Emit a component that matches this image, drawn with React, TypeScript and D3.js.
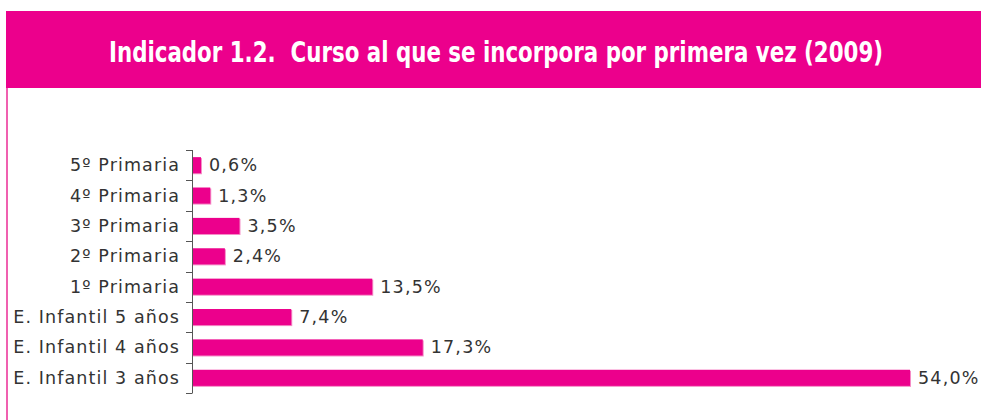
import React, { useEffect, useRef } from 'react';
import * as d3 from 'd3';

const categories = [
  '5º Primaria',
  '4º Primaria',
  '3º Primaria',
  '2º Primaria',
  '1º Primaria',
  'E. Infantil 5 años',
  'E. Infantil 4 años',
  'E. Infantil 3 años',
];
const values = [0.6, 1.3, 3.5, 2.4, 13.5, 7.4, 17.3, 54.0];

const PINK = '#ec008c';

const App = () => {
  const ref = useRef<SVGSVGElement>(null);

  useEffect(() => {
    const svg = d3.select(ref.current);
    svg.selectAll('*').remove();

    // header band
    svg.append('rect').attr('x', 6).attr('y', 11).attr('width', 975).attr('height', 77).style('fill', PINK);
    svg
      .append('text')
      .attr('x', 496)
      .attr('y', 62)
      .attr('text-anchor', 'middle')
      .attr('textLength', 774)
      .attr('lengthAdjust', 'spacingAndGlyphs')
      .style('font-family', '"DejaVu Sans Condensed", "DejaVu Sans"')
      .style('font-weight', 'bold')
      .style('font-size', '28px')
      .style('fill', 'white')
      .attr('xml:space', 'preserve')
      .text('Indicador 1.2.  Curso al que se incorpora por primera vez (2009)');

    // left border
    svg.append('rect').attr('x', 6).attr('y', 88).attr('width', 2).attr('height', 332).style('fill', '#f060b0');

    const x = d3.scaleLinear().domain([0, 54]).range([193, 910]);
    const y = d3.scaleBand<string>().domain(categories).range([150, 393]).paddingInner(0.47).paddingOuter(0.235);

    const g = svg.append('g');
    const data = categories.map((c, i) => ({ c, v: values[i] }));

    // bars with light edge
    g.selectAll('rect.edge')
      .data(data)
      .join('rect')
      .attr('class', 'edge')
      .attr('x', x(0))
      .attr('y', (d) => y(d.c)! + 1)
      .attr('width', (d) => x(d.v) - x(0) + 1)
      .attr('height', y.bandwidth())
      .style('fill', '#f58cc6');
    g.selectAll('rect.bar')
      .data(data)
      .join('rect')
      .attr('class', 'bar')
      .attr('x', x(0))
      .attr('y', (d) => y(d.c)!)
      .attr('width', (d) => x(d.v) - x(0))
      .attr('height', y.bandwidth())
      .style('fill', PINK);

    // value labels
    g.selectAll('text.val')
      .data(data)
      .join('text')
      .attr('class', 'val')
      .attr('x', (d) => x(d.v) + 8)
      .attr('y', (d) => y(d.c)! + y.bandwidth() / 2 + 6)
      .style('font-family', '"DejaVu Sans"')
      .style('font-size', '17.5px')
      .style('letter-spacing', '1.2px')
      .style('fill', '#333')
      .text((d) => d.v.toFixed(1).replace('.', ',') + '%');

    // axis
    const step = y.step();
    const ticks = d3.range(categories.length + 1).map((i) => 150 + i * step);
    g.append('line').attr('x1', 192.5).attr('x2', 192.5).attr('y1', 150).attr('y2', 393).attr('stroke', '#555').attr('stroke-width', 1);
    g.selectAll('line.tick')
      .data(ticks)
      .join('line')
      .attr('class', 'tick')
      .attr('x1', 186)
      .attr('x2', 192.5)
      .attr('y1', (d) => Math.round(d) + 0.5)
      .attr('y2', (d) => Math.round(d) + 0.5)
      .attr('stroke', '#555')
      .attr('stroke-width', 1);

    g.selectAll('text.cat')
      .data(data)
      .join('text')
      .attr('class', 'cat')
      .attr('x', 180)
      .attr('y', (d) => y(d.c)! + y.bandwidth() / 2 + 6)
      .attr('text-anchor', 'end')
      .style('font-family', '"DejaVu Sans"')
      .style('font-size', '17.5px')
      .style('letter-spacing', '1.1px')
      .style('fill', '#333')
      .text((d) => d.c);
  }, []);

  return (
    <svg ref={ref} width={981} height={420} style={{ position: 'absolute', left: 0, top: 0, background: 'white' }} />
  );
};

export default App;
